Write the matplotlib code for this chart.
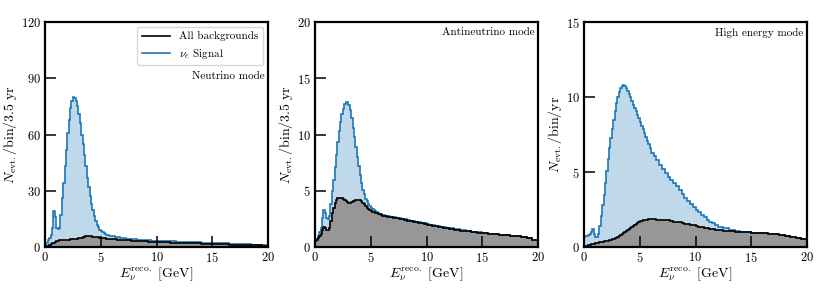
import numpy as np
import matplotlib
matplotlib.use("Agg")
import matplotlib.pyplot as plt

# Bin edges: 0.125 GeV up to 6 GeV, 0.25 GeV up to 12 GeV, 0.5 GeV up to 20 GeV
edges = np.concatenate([np.arange(0, 6, 0.125), np.arange(6, 12, 0.25), np.arange(12, 20.5, 0.5)])

# Neutrino mode (blue = signal on top of backgrounds, black = all backgrounds)
nu_sig = [1, 2, 3.5, 5, 6.5, 10, 19, 16,
          10, 9.5, 10, 17, 26, 34, 43, 52,
          61, 68, 74, 78, 80, 79.5, 78, 75,
          71, 66, 60, 55, 49, 43, 37, 32,
          27, 23, 19.5, 16.5, 14, 12, 10.5, 9.3,
          8.5, 7.8, 7.3, 6.9, 6.6, 6.3, 6.1, 5.9,
          5.7, 5.4, 5.1, 4.9, 4.7, 4.5, 4.35, 4.2, 4.05, 3.9, 3.8, 3.7,
          3.6, 3.5, 3.4, 3.35, 3.3, 3.2, 3.15, 3.1, 3.05, 3.0, 2.95, 2.9,
          2.8, 2.7, 2.6, 2.5, 2.4, 2.3, 2.2, 2.1, 2.0, 1.85, 1.7, 1.55, 1.4, 1.25, 1.1, 0.95]
nu_bkg = [0.1, 0.4, 0.8, 1.2, 1.6, 2.0, 2.4, 2.8,
          3.1, 3.4, 3.6, 3.7, 3.75, 3.8, 3.85, 3.9,
          3.95, 4.0, 4.05, 4.1, 4.2, 4.3, 4.4, 4.5,
          4.6, 4.7, 4.9, 5.1, 5.4, 5.7, 5.9, 6.0,
          5.95, 5.8, 5.6, 5.45, 5.3, 5.2, 5.1, 5.0,
          4.9, 4.8, 4.7, 4.6, 4.5, 4.45, 4.4, 4.3,
          4.2, 4.1, 4.0, 3.85, 3.7, 3.6, 3.5, 3.4, 3.3, 3.2, 3.1, 3.0,
          2.95, 2.9, 2.8, 2.75, 2.7, 2.6, 2.55, 2.5, 2.45, 2.4, 2.35, 2.3,
          2.2, 2.1, 2.0, 1.9, 1.8, 1.7, 1.6, 1.5, 1.4, 1.3, 1.25, 1.15, 1.05, 1.0, 0.9, 0.8]

# Antineutrino mode
anu_sig = [0.55, 0.7, 1.0, 1.3, 1.7, 2.6, 3.3, 3.0,
           2.6, 2.5, 2.8, 3.8, 5.0, 6.0, 7.1, 8.2,
           9.3, 10.3, 11.1, 11.8, 12.3, 12.7, 12.9, 12.85,
           12.6, 12.2, 11.5, 10.6, 9.8, 8.9, 8.0, 7.2,
           6.4, 5.7, 5.1, 4.7, 4.3, 4.05, 3.85, 3.65,
           3.5, 3.4, 3.3, 3.2, 3.1, 3.0, 2.95, 2.9,
           2.85, 2.8, 2.75, 2.7, 2.65, 2.6, 2.55, 2.5, 2.45, 2.4, 2.35, 2.3,
           2.25, 2.2, 2.15, 2.1, 2.05, 2.0, 1.95, 1.9, 1.85, 1.8, 1.75, 1.72,
           1.65, 1.58, 1.5, 1.43, 1.36, 1.3, 1.25, 1.2, 1.15, 1.1, 1.06, 1.02, 0.97, 0.9, 0.8, 0.65]
anu_bkg = [0.5, 0.6, 0.8, 1.0, 1.2, 1.5, 1.8, 1.7,
           1.5, 1.5, 1.7, 2.3, 3.0, 3.5, 3.9, 4.2,
           4.35, 4.4, 4.4, 4.35, 4.25, 4.15, 4.05, 4.0,
           3.95, 3.95, 4.0, 4.05, 4.1, 4.15, 4.2, 4.2,
           4.15, 4.05, 3.95, 3.8, 3.65, 3.5, 3.4, 3.3,
           3.2, 3.15, 3.1, 3.05, 3.0, 2.95, 2.9, 2.85,
           2.8, 2.75, 2.7, 2.65, 2.6, 2.55, 2.5, 2.45, 2.4, 2.35, 2.3, 2.25,
           2.2, 2.15, 2.1, 2.05, 2.0, 1.95, 1.9, 1.85, 1.8, 1.75, 1.7, 1.67,
           1.6, 1.53, 1.46, 1.4, 1.33, 1.27, 1.22, 1.17, 1.12, 1.07, 1.03, 0.99, 0.94, 0.87, 0.77, 0.6]

# High energy mode
he_sig = [0.7, 0.72, 0.75, 0.8, 0.85, 1.0, 1.2, 0.9,
          0.65, 0.68, 0.9, 1.4, 2.1, 2.8, 3.5, 4.3,
          5.1, 5.9, 6.6, 7.3, 7.9, 8.5, 9.1, 9.6,
          10.0, 10.35, 10.6, 10.75, 10.8, 10.75, 10.6, 10.4,
          10.2, 10.0, 9.75, 9.5, 9.3, 9.05, 8.8, 8.6,
          8.35, 8.1, 7.85, 7.6, 7.35, 7.1, 6.85, 6.6,
          6.3, 6.05, 5.8, 5.45, 5.2, 4.95, 4.7, 4.5, 4.3, 4.05, 3.8, 3.55,
          3.3, 3.1, 2.9, 2.7, 2.5, 2.32, 2.15, 1.98, 1.83, 1.7, 1.58, 1.48,
          1.36, 1.24, 1.14, 1.07, 1.02, 0.98, 0.95, 0.93, 0.91, 0.88, 0.85, 0.81, 0.75, 0.68, 0.6, 0.52]
he_bkg = [0.02, 0.06, 0.1, 0.13, 0.16, 0.19, 0.21, 0.23,
          0.25, 0.27, 0.29, 0.31, 0.33, 0.35, 0.37, 0.39,
          0.41, 0.43, 0.46, 0.49, 0.52, 0.55, 0.59, 0.63,
          0.68, 0.73, 0.79, 0.85, 0.92, 0.99, 1.06, 1.13,
          1.2, 1.28, 1.36, 1.43, 1.5, 1.56, 1.62, 1.67,
          1.71, 1.75, 1.78, 1.8, 1.82, 1.83, 1.84, 1.84,
          1.84, 1.84, 1.83, 1.82, 1.81, 1.8, 1.78, 1.75, 1.7, 1.67, 1.64, 1.6,
          1.56, 1.52, 1.48, 1.44, 1.4, 1.36, 1.32, 1.28, 1.24, 1.21, 1.18, 1.15,
          1.12, 1.09, 1.06, 1.03, 1.0, 0.97, 0.95, 0.93, 0.91, 0.88, 0.85, 0.81, 0.75, 0.68, 0.6, 0.52]

panels = [
    (nu_sig, nu_bkg, 120, [0, 30, 60, 90, 120], r"$N_{\rm evt.}/{\rm bin}/3.5~{\rm yr}$", "Neutrino mode"),
    (anu_sig, anu_bkg, 20, [0, 5, 10, 15, 20], r"$N_{\rm evt.}/{\rm bin}/3.5~{\rm yr}$", "Antineutrino mode"),
    (he_sig, he_bkg, 15, [0, 5, 10, 15], r"$N_{\rm evt.}/{\rm bin}/{\rm yr}$", "High energy mode"),
]

plt.rcParams["font.family"] = ["cmr10", "DejaVu Serif"]
plt.rcParams["mathtext.fontset"] = "cm"
plt.rcParams["axes.unicode_minus"] = False
plt.rcParams["axes.formatter.use_mathtext"] = True

fig = plt.figure(figsize=(8.3, 2.92), dpi=100)
lefts = [45, 315, 584]
for i, (sig, bkg, ymax, yticks, ylab, mode) in enumerate(panels):
    ax = fig.add_axes([lefts[i] / 830, 45 / 292, 223 / 830, 225 / 292])
    ax.stairs(sig, edges, fill=True, color="#c0d9ea", linewidth=0)
    ax.stairs(bkg, edges, fill=True, color="#979797", linewidth=0)
    ax.stairs(sig, edges, color="#1f77b4", linewidth=1.2, baseline=None, label=r"$\nu_e$ Signal")
    ax.stairs(bkg, edges, color="black", linewidth=1.2, baseline=None, label="All backgrounds")
    ax.set_xlim(0, 20)
    ax.set_ylim(0, ymax)
    ax.set_xticks([0, 5, 10, 15, 20])
    ax.set_yticks(yticks)
    ax.tick_params(direction="in", length=8, width=1.1, labelsize=9, pad=3)
    for s in ax.spines.values():
        s.set_linewidth(1.6)
    ax.set_xlabel(r"$E_\nu^{\rm reco.}$ [GeV]", fontsize=10, labelpad=0)
    ax.set_ylabel(ylab, fontsize=10, labelpad=1)
    if i == 0:
        h, l = ax.get_legend_handles_labels()
        ax.legend(h[::-1], l[::-1], loc="upper right", fontsize=8, frameon=True,
                  edgecolor="#cccccc", handlelength=2.6, borderaxespad=0.45)
        ax.text(0.985, 0.78, mode, transform=ax.transAxes, ha="right", va="top", fontsize=8)
    else:
        ax.text(0.985, 0.975, mode, transform=ax.transAxes, ha="right", va="top", fontsize=8)

fig.savefig("out.png", dpi=100)
